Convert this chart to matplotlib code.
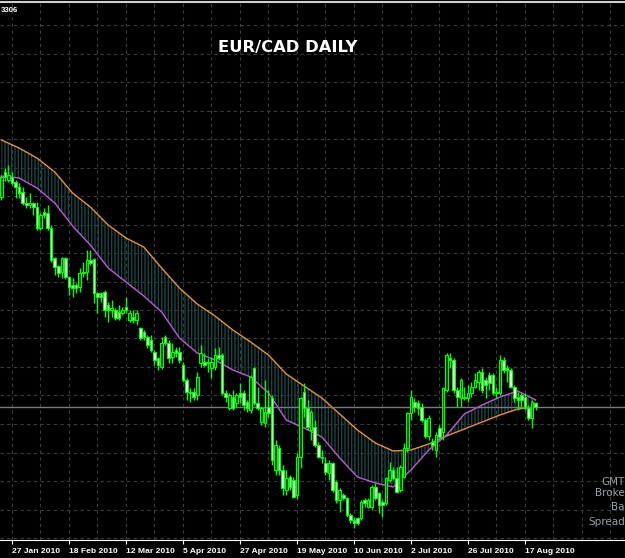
import numpy as np
import pandas as pd
import matplotlib
matplotlib.use("Agg")
import matplotlib.pyplot as plt

# --- EUR/CAD daily candles, 22 Jan 2010 - 20 Aug 2010 ---
dates = pd.bdate_range("2010-01-22", periods=151)

opens = [1.4790, 1.4965, 1.4909, 1.4930, 1.4895, 1.4860, 1.4825, 1.4748, 1.4734, 1.4748,
         1.4720, 1.4573, 1.4685, 1.4678, 1.4573, 1.4363, 1.4307, 1.4265, 1.4363, 1.4230,
         1.4174, 1.4174, 1.4160, 1.4265, 1.4265, 1.4349, 1.4356, 1.4118, 1.4118, 1.4125,
         1.4034, 1.3999, 1.3999, 1.3985, 1.3978, 1.4020, 1.3929, 1.3950, 1.3929, 1.3873,
         1.3845, 1.3810, 1.3789, 1.3705, 1.3663, 1.3600, 1.3810, 1.3768, 1.3670, 1.3719,
         1.3705, 1.3614, 1.3509, 1.3425, 1.3425, 1.3404, 1.3628, 1.3635, 1.3635, 1.3593,
         1.3600, 1.3684, 1.3684, 1.3418, 1.3313, 1.3390, 1.3348, 1.3418, 1.3418, 1.3355,
         1.3299, 1.3593, 1.3348, 1.3215, 1.3208, 1.3320, 1.3383, 1.2879, 1.3033, 1.2879,
         1.2739, 1.2830, 1.2809, 1.2704, 1.2970, 1.3425, 1.3313, 1.3159, 1.3180, 1.3054,
         1.2970, 1.2928, 1.2858, 1.2928, 1.2795, 1.2669, 1.2704, 1.2683, 1.2564, 1.2529,
         1.2543, 1.2543, 1.2669, 1.2620, 1.2620, 1.2760, 1.2718, 1.2655, 1.2648, 1.2809,
         1.2879, 1.2823, 1.2739, 1.2830, 1.3033, 1.3278, 1.3355, 1.3348, 1.3320, 1.3229,
         1.3117, 1.3075, 1.3019, 1.3173, 1.3145, 1.3439, 1.3663, 1.3649, 1.3439, 1.3383,
         1.3390, 1.3383, 1.3418, 1.3460, 1.3495, 1.3565, 1.3509, 1.3544, 1.3544, 1.3418,
         1.3418, 1.3649, 1.3593, 1.3579, 1.3460, 1.3390, 1.3404, 1.3390, 1.3313, 1.3243,
         1.3348]

highs = [1.4944, 1.4993, 1.5014, 1.4965, 1.4909, 1.4888, 1.4860, 1.4790, 1.4818, 1.4755,
         1.4755, 1.4678, 1.4713, 1.4734, 1.4594, 1.4370, 1.4314, 1.4370, 1.4370, 1.4237,
         1.4223, 1.4188, 1.4293, 1.4335, 1.4419, 1.4419, 1.4363, 1.4125, 1.4125, 1.4139,
         1.4055, 1.4069, 1.4013, 1.4034, 1.4020, 1.4090, 1.3999, 1.3999, 1.3999, 1.3880,
         1.3859, 1.3824, 1.3824, 1.3719, 1.3670, 1.3810, 1.3824, 1.3789, 1.3768, 1.3740,
         1.3740, 1.3635, 1.3523, 1.3453, 1.3453, 1.3565, 1.3754, 1.3698, 1.3663, 1.3670,
         1.3733, 1.3740, 1.3698, 1.3439, 1.3418, 1.3439, 1.3418, 1.3488, 1.3439, 1.3369,
         1.3544, 1.3600, 1.3460, 1.3320, 1.3509, 1.3439, 1.3404, 1.3089, 1.3054, 1.2914,
         1.2879, 1.2844, 1.2830, 1.2998, 1.3390, 1.3488, 1.3369, 1.3299, 1.3229, 1.3075,
         1.3019, 1.2970, 1.2949, 1.2935, 1.2809, 1.2753, 1.2718, 1.2690, 1.2578, 1.2550,
         1.2550, 1.2669, 1.2683, 1.2683, 1.2774, 1.2788, 1.2725, 1.2669, 1.2830, 1.2935,
         1.2900, 1.2900, 1.2914, 1.3068, 1.3285, 1.3439, 1.3383, 1.3369, 1.3348, 1.3243,
         1.3264, 1.3103, 1.3145, 1.3194, 1.3460, 1.3698, 1.3698, 1.3663, 1.3460, 1.3523,
         1.3460, 1.3474, 1.3495, 1.3558, 1.3579, 1.3593, 1.3530, 1.3565, 1.3558, 1.3460,
         1.3684, 1.3670, 1.3614, 1.3593, 1.3474, 1.3425, 1.3418, 1.3418, 1.3334, 1.3369,
         1.3355]

lows = [1.4769, 1.4902, 1.4895, 1.4874, 1.4783, 1.4783, 1.4734, 1.4713, 1.4713, 1.4664,
        1.4559, 1.4559, 1.4643, 1.4559, 1.4335, 1.4244, 1.4230, 1.4223, 1.4216, 1.4104,
        1.4090, 1.4118, 1.4125, 1.4230, 1.4209, 1.4314, 1.4048, 1.3978, 1.4055, 1.3950,
        1.3915, 1.3950, 1.3929, 1.3929, 1.3964, 1.3978, 1.3915, 1.3908, 1.3894, 1.3789,
        1.3789, 1.3733, 1.3705, 1.3614, 1.3579, 1.3586, 1.3754, 1.3628, 1.3628, 1.3670,
        1.3628, 1.3495, 1.3369, 1.3355, 1.3369, 1.3369, 1.3600, 1.3600, 1.3565, 1.3523,
        1.3579, 1.3649, 1.3404, 1.3355, 1.3299, 1.3299, 1.3320, 1.3348, 1.3299, 1.3285,
        1.3278, 1.3334, 1.3299, 1.3194, 1.3180, 1.3250, 1.2914, 1.2844, 1.2844, 1.2704,
        1.2704, 1.2739, 1.2683, 1.2676, 1.2893, 1.3250, 1.3159, 1.3089, 1.3040, 1.2963,
        1.2928, 1.2844, 1.2809, 1.2725, 1.2648, 1.2585, 1.2669, 1.2550, 1.2508, 1.2473,
        1.2494, 1.2529, 1.2620, 1.2613, 1.2599, 1.2669, 1.2578, 1.2550, 1.2634, 1.2795,
        1.2809, 1.2718, 1.2725, 1.2823, 1.3005, 1.3229, 1.3285, 1.3264, 1.3215, 1.3103,
        1.3089, 1.3019, 1.2970, 1.3103, 1.3089, 1.3425, 1.3593, 1.3418, 1.3320, 1.3320,
        1.3369, 1.3355, 1.3390, 1.3453, 1.3439, 1.3418, 1.3383, 1.3439, 1.3404, 1.3383,
        1.3404, 1.3558, 1.3495, 1.3453, 1.3355, 1.3299, 1.3320, 1.3299, 1.3229, 1.3173,
        1.3299]

closes = [1.4930, 1.4930, 1.4944, 1.4888, 1.4860, 1.4818, 1.4748, 1.4734, 1.4748, 1.4720,
          1.4573, 1.4664, 1.4664, 1.4573, 1.4349, 1.4300, 1.4258, 1.4363, 1.4230, 1.4160,
          1.4153, 1.4153, 1.4258, 1.4258, 1.4349, 1.4328, 1.4118, 1.4090, 1.4090, 1.3999,
          1.3999, 1.4013, 1.3943, 1.3943, 1.3999, 1.3999, 1.3978, 1.3929, 1.3978, 1.3803,
          1.3810, 1.3754, 1.3719, 1.3649, 1.3614, 1.3768, 1.3768, 1.3663, 1.3705, 1.3698,
          1.3649, 1.3509, 1.3425, 1.3418, 1.3390, 1.3530, 1.3698, 1.3614, 1.3628, 1.3635,
          1.3684, 1.3663, 1.3418, 1.3390, 1.3404, 1.3313, 1.3404, 1.3390, 1.3334, 1.3313,
          1.3530, 1.3348, 1.3313, 1.3313, 1.3285, 1.3278, 1.2949, 1.3054, 1.2879, 1.2753,
          1.2823, 1.2760, 1.2690, 1.2970, 1.3383, 1.3313, 1.3180, 1.3285, 1.3054, 1.2970,
          1.2963, 1.2865, 1.2928, 1.2739, 1.2669, 1.2739, 1.2683, 1.2564, 1.2529, 1.2508,
          1.2508, 1.2655, 1.2648, 1.2669, 1.2760, 1.2683, 1.2634, 1.2634, 1.2823, 1.2879,
          1.2823, 1.2725, 1.2900, 1.3033, 1.3278, 1.3390, 1.3320, 1.3313, 1.3229, 1.3117,
          1.3243, 1.3054, 1.3124, 1.3110, 1.3453, 1.3684, 1.3649, 1.3439, 1.3390, 1.3509,
          1.3383, 1.3418, 1.3460, 1.3509, 1.3565, 1.3439, 1.3474, 1.3488, 1.3418, 1.3425,
          1.3649, 1.3579, 1.3579, 1.3460, 1.3383, 1.3369, 1.3369, 1.3320, 1.3243, 1.3355,
          1.3320]

# --- moving averages (every 5 bars) ---
ma_idx = list(range(0, 151, 5))
ma_slow = [1.5189, 1.5133, 1.5063, 1.4965, 1.4818, 1.4720, 1.4594, 1.4503, 1.4440, 1.4293,
           1.4153, 1.4041, 1.3957, 1.3859, 1.3775, 1.3684, 1.3551, 1.3467, 1.3383, 1.3271,
           1.3159, 1.3068, 1.3012, 1.3019, 1.3061, 1.3117, 1.3166, 1.3215, 1.3264, 1.3306,
           1.3320]
ma_fast = [1.4937, 1.4923, 1.4853, 1.4748, 1.4587, 1.4454, 1.4293, 1.4195, 1.4097, 1.3985,
           1.3803, 1.3698, 1.3649, 1.3579, 1.3530, 1.3418, 1.3229, 1.3173, 1.3110, 1.2963,
           1.2830, 1.2788, 1.2760, 1.2879, 1.3019, 1.3124, 1.3271, 1.3334, 1.3390, 1.3432,
           1.3369]

title = "EUR/CAD DAILY"
label_font = ["Liberation Sans", "DejaVu Sans"]

# --- plot ---
fig = plt.figure(figsize=(6.25, 5.58), dpi=100, facecolor="black")
ax = fig.add_axes([0, 18 / 558, 1, 538 / 558])
ax.set_facecolor("black")

x = np.arange(len(closes))
o = np.array(opens)
c = np.array(closes)
up = c >= o

# ribbon between the two averages
ax.fill_between(ma_idx, ma_fast, ma_slow, facecolor="none", edgecolor="#1a4343",
                hatch="|||||", linewidth=0, zorder=1)
ax.plot(ma_idx, ma_slow, color="#e8913a", lw=1, zorder=2)
ax.plot(ma_idx, ma_fast, color="#c259d8", lw=1, zorder=2)

# candles
ax.vlines(x, lows, highs, color="#00ff00", lw=1, zorder=3)
body = np.maximum(np.abs(c - o), 0.00008)
ax.bar(x, body, bottom=np.minimum(o, c), width=0.72,
       color=np.where(up, "#004d00", "#e6ffe6"), edgecolor="#00ff00", lw=0.8, zorder=4)

# bid line
ax.axhline(closes[-1], color="#7a7a7a", lw=1, zorder=2)

# axes, grid
ax.set_xlim(-0.37, 175.1)
ax.set_ylim(1.2389, 1.6155)
grid_levels = 1.5994 - 0.01995 * np.arange(19)
ax.set_yticks(grid_levels)
ax.tick_params(axis="y", left=False, labelleft=False)

label_idx = list(range(3, 151, 16))
ax.set_xticks(label_idx)
ax.set_xticklabels([dates[i].strftime("%-d %b %Y") for i in label_idx],
                   ha="left", color="white", fontsize=6.1, fontweight="bold",
                   family=label_font)
ax.set_xticks(list(range(3, 176, 8)), minor=True)
ax.tick_params(axis="x", which="major", length=3, color="white", pad=2.5)
ax.tick_params(axis="x", which="minor", length=0)
ax.grid(True, which="both", color="#3d3d3d", linestyle=(0, (3, 3)), lw=0.8)
ax.set_axisbelow(True)

for side in ["left", "right"]:
    ax.spines[side].set_visible(False)
ax.spines["bottom"].set_color("white")
ax.spines["top"].set_color("#d0d0d0")
ax.spines["top"].set_linewidth(1.5)

ax.text(0.46, 0.915, title, transform=ax.transAxes, ha="center", va="center",
        color="white", fontsize=11.8, fontweight="bold")
fig.text(1 / 625, 1 - 10 / 558, "3306", ha="left", va="center", color="white",
         fontsize=5.6, fontweight="bold", family=label_font)

for label, ypx in [("GMT", 482), ("Broke", 493), ("Ba", 507), ("Spread", 522)]:
    fig.text(1.0, 1 - ypx / 558, label, ha="right", va="center", color="#9aa0a6", fontsize=7.5)

fig.savefig("out.png", dpi=100, facecolor="black")
